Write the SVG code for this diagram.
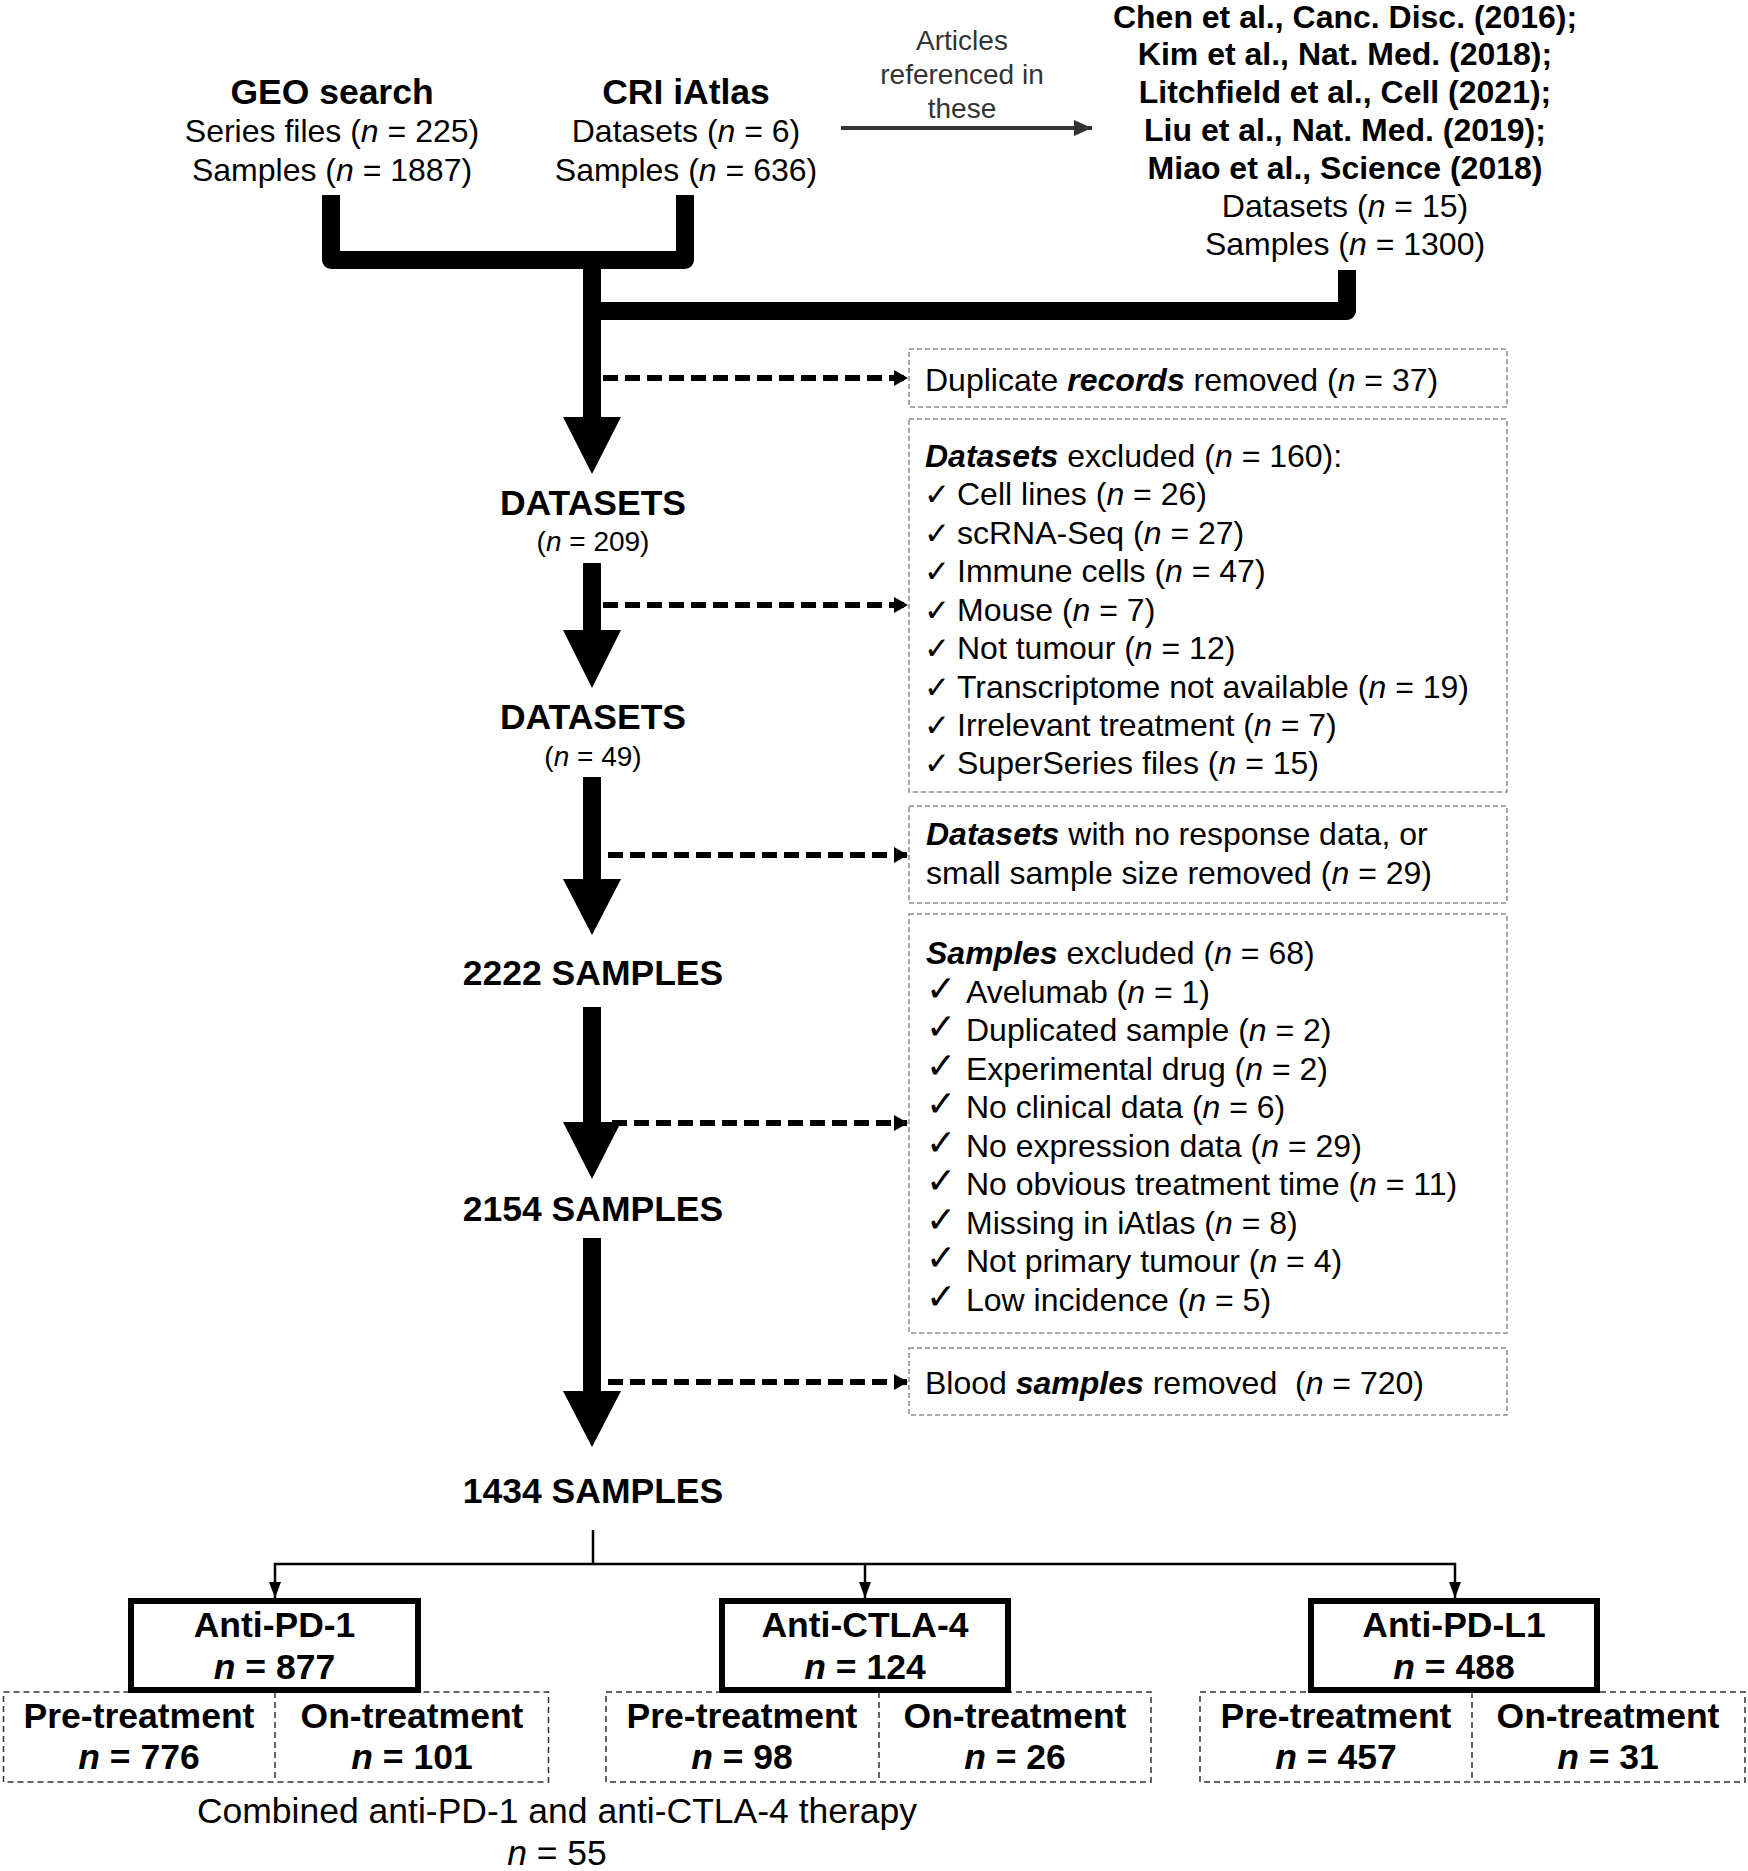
<svg xmlns="http://www.w3.org/2000/svg" width="1748" height="1871" viewBox="0 0 1748 1871">
<style>
text{font-family:"Liberation Sans",Arial,Helvetica,sans-serif;fill:#000}
.r{font-size:32px}
.s{font-size:28px}
.b{font-size:35.5px;font-weight:bold}
.b32{font-size:32px;font-weight:bold}
.c{text-anchor:middle}
.chk{font-family:"DejaVu Sans",sans-serif;font-size:31px}
.chk2{font-family:"DejaVu Sans",sans-serif;font-size:36px;font-weight:300}
.i{font-style:italic}
.bi{font-style:italic;font-weight:bold}
.thick{fill:none;stroke:#000;stroke-width:18;stroke-linejoin:round}
.dash{fill:none;stroke:#000;stroke-width:6;stroke-dasharray:15 7}
.ebox{fill:#fff;stroke:#8c8c8c;stroke-width:1.5;stroke-dasharray:5 3}
.sbox{fill:#fff;stroke:#333;stroke-width:1.5;stroke-dasharray:6 4}
.tbox{fill:#fff;stroke:#000;stroke-width:6}
.thin{fill:none;stroke:#000;stroke-width:2.5}
</style>
<defs>
<marker id="dh" markerUnits="userSpaceOnUse" markerWidth="14" markerHeight="16" refX="13" refY="8" orient="auto"><path d="M0,0 L14,8 L0,16 Z" fill="#000"/></marker>
<marker id="th" markerUnits="userSpaceOnUse" markerWidth="16" markerHeight="12" refX="16" refY="6" orient="auto"><path d="M0,0 L16,6 L0,12 Z" fill="#000"/></marker>
<marker id="ah" markerUnits="userSpaceOnUse" markerWidth="18" markerHeight="16" refX="18" refY="8" orient="auto"><path d="M0,0 L18,8 L0,16 Z" fill="#333"/></marker>
</defs>

<g id="connectors">
<polyline class="thick" points="331,195 331,260 685,260 685,195"/>
<polyline class="thick" points="592,311 1347,311 1347,270"/>
<line class="thick" x1="592" y1="255" x2="592" y2="420"/>
<polygon points="563,417 621,417 592,474"/>
<line class="thick" x1="592" y1="563" x2="592" y2="632"/>
<polygon points="563,630 621,630 592,688"/>
<line class="thick" x1="592" y1="777" x2="592" y2="881"/>
<polygon points="563,879 621,879 592,935"/>
<line class="thick" x1="592" y1="1007" x2="592" y2="1124"/>
<polygon points="563,1122 621,1122 592,1179"/>
<line class="thick" x1="592" y1="1238" x2="592" y2="1393"/>
<polygon points="563,1391 621,1391 592,1447"/>
<line class="dash" x1="603" y1="378" x2="907" y2="378" marker-end="url(#dh)"/>
<line class="dash" x1="603" y1="605" x2="907" y2="605" marker-end="url(#dh)"/>
<line class="dash" x1="608" y1="855" x2="907" y2="855" marker-end="url(#dh)"/>
<line class="dash" x1="612" y1="1123" x2="907" y2="1123" marker-end="url(#dh)"/>
<line class="dash" x1="608" y1="1382" x2="907" y2="1382" marker-end="url(#dh)"/>
<line x1="841" y1="128" x2="1092" y2="128" stroke="#333" stroke-width="4" marker-end="url(#ah)"/>
<line class="thin" x1="593" y1="1530" x2="593" y2="1564"/>
<line class="thin" x1="274" y1="1564" x2="1456" y2="1564"/>
<line class="thin" x1="275" y1="1563" x2="275" y2="1598" marker-end="url(#th)"/>
<line class="thin" x1="865" y1="1563" x2="865" y2="1598" marker-end="url(#th)"/>
<line class="thin" x1="1455" y1="1563" x2="1455" y2="1598" marker-end="url(#th)"/>
</g>

<g id="geo">
<text class="b c" x="332" y="104">GEO search</text>
<text class="r c" x="332" y="142">Series files (<tspan class="i">n</tspan> = 225)</text>
<text class="r c" x="332" y="181">Samples (<tspan class="i">n</tspan> = 1887)</text>
</g>
<g id="cri">
<text class="b c" x="686" y="104">CRI iAtlas</text>
<text class="r c" x="686" y="142">Datasets (<tspan class="i">n</tspan> = 6)</text>
<text class="r c" x="686" y="181">Samples (<tspan class="i">n</tspan> = 636)</text>
</g>
<g id="articles-label">
<text class="s c" x="962" y="50" style="fill:#333">Articles</text>
<text class="s c" x="962" y="84" style="fill:#333">referenced in</text>
<text class="s c" x="962" y="118" style="fill:#333">these</text>
</g>
<g id="articles">
<text class="b32 c" x="1345" y="28">Chen et al., Canc. Disc. (2016);</text>
<text class="b32 c" x="1345" y="65">Kim et al., Nat. Med. (2018);</text>
<text class="b32 c" x="1345" y="103">Litchfield et al., Cell (2021);</text>
<text class="b32 c" x="1345" y="141">Liu et al., Nat. Med. (2019);</text>
<text class="b32 c" x="1345" y="179">Miao et al., Science (2018)</text>
<text class="r c" x="1345" y="217">Datasets (<tspan class="i">n</tspan> = 15)</text>
<text class="r c" x="1345" y="255">Samples (<tspan class="i">n</tspan> = 1300)</text>
</g>

<g id="box-duplicates">
<rect class="ebox" x="909" y="349" width="598" height="58"/>
<text class="r" x="925" y="391">Duplicate <tspan class="bi">records</tspan> removed (<tspan class="i">n</tspan> = 37)</text>
</g>
<g id="box-datasets-excluded">
<rect class="ebox" x="909" y="419" width="598" height="373"/>
<text class="r" x="925" y="467"><tspan class="bi">Datasets</tspan> excluded (<tspan class="i">n</tspan> = 160):</text>
<text class="chk" x="924" y="505">✓</text><text class="r" x="957" y="505">Cell lines (<tspan class="i">n</tspan> = 26)</text>
<text class="chk" x="924" y="544">✓</text><text class="r" x="957" y="544">scRNA-Seq (<tspan class="i">n</tspan> = 27)</text>
<text class="chk" x="924" y="582">✓</text><text class="r" x="957" y="582">Immune cells (<tspan class="i">n</tspan> = 47)</text>
<text class="chk" x="924" y="621">✓</text><text class="r" x="957" y="621">Mouse (<tspan class="i">n</tspan> = 7)</text>
<text class="chk" x="924" y="659">✓</text><text class="r" x="957" y="659">Not tumour (<tspan class="i">n</tspan> = 12)</text>
<text class="chk" x="924" y="698">✓</text><text class="r" x="957" y="698">Transcriptome not available (<tspan class="i">n</tspan> = 19)</text>
<text class="chk" x="924" y="736">✓</text><text class="r" x="957" y="736">Irrelevant treatment (<tspan class="i">n</tspan> = 7)</text>
<text class="chk" x="924" y="774">✓</text><text class="r" x="957" y="774">SuperSeries files (<tspan class="i">n</tspan> = 15)</text>
</g>
<g id="box-no-response">
<rect class="ebox" x="909" y="806" width="598" height="97"/>
<text class="r" x="926" y="845"><tspan class="bi">Datasets</tspan> with no response data, or</text>
<text class="r" x="926" y="884">small sample size removed (<tspan class="i">n</tspan> = 29)</text>
</g>
<g id="box-samples-excluded">
<rect class="ebox" x="909" y="914" width="598" height="419"/>
<text class="r" x="926" y="964"><tspan class="bi">Samples</tspan> excluded (<tspan class="i">n</tspan> = 68)</text>
<text class="chk2" x="926" y="1001">✓</text><text class="r" x="966" y="1003">Avelumab (<tspan class="i">n</tspan> = 1)</text>
<text class="chk2" x="926" y="1039">✓</text><text class="r" x="966" y="1041">Duplicated sample (<tspan class="i">n</tspan> = 2)</text>
<text class="chk2" x="926" y="1078">✓</text><text class="r" x="966" y="1080">Experimental drug (<tspan class="i">n</tspan> = 2)</text>
<text class="chk2" x="926" y="1116">✓</text><text class="r" x="966" y="1118">No clinical data (<tspan class="i">n</tspan> = 6)</text>
<text class="chk2" x="926" y="1155">✓</text><text class="r" x="966" y="1157">No expression data (<tspan class="i">n</tspan> = 29)</text>
<text class="chk2" x="926" y="1193">✓</text><text class="r" x="966" y="1195">No obvious treatment time (<tspan class="i">n</tspan> = 11)</text>
<text class="chk2" x="926" y="1232">✓</text><text class="r" x="966" y="1234">Missing in iAtlas (<tspan class="i">n</tspan> = 8)</text>
<text class="chk2" x="926" y="1270">✓</text><text class="r" x="966" y="1272">Not primary tumour (<tspan class="i">n</tspan> = 4)</text>
<text class="chk2" x="926" y="1309">✓</text><text class="r" x="966" y="1311">Low incidence (<tspan class="i">n</tspan> = 5)</text>
</g>
<g id="box-blood">
<rect class="ebox" x="909" y="1348" width="598" height="67"/>
<text class="r" x="925" y="1394">Blood <tspan class="bi">samples</tspan> removed &#160;(<tspan class="i">n</tspan> = 720)</text>
</g>

<g id="datasets-209">
<text class="b c" x="593" y="515">DATASETS</text>
<text class="s c" x="593" y="551">(<tspan class="i">n</tspan> = 209)</text>
</g>
<g id="datasets-49">
<text class="b c" x="593" y="729">DATASETS</text>
<text class="s c" x="593" y="766">(<tspan class="i">n</tspan> = 49)</text>
</g>
<g id="samples-2222"><text class="b c" x="593" y="985">2222 SAMPLES</text></g>
<g id="samples-2154"><text class="b c" x="593" y="1221">2154 SAMPLES</text></g>
<g id="samples-1434"><text class="b c" x="593" y="1503">1434 SAMPLES</text></g>

<g id="split-pd1">
<rect class="sbox" x="3.5" y="1692" width="545" height="90"/>
<line class="sbox" x1="275" y1="1692" x2="275" y2="1782"/>
<text class="b c" x="139" y="1728">Pre-treatment</text>
<text class="b c" x="139" y="1769"><tspan class="i">n</tspan> = 776</text>
<text class="b c" x="412" y="1728">On-treatment</text>
<text class="b c" x="412" y="1769"><tspan class="i">n</tspan> = 101</text>
</g>
<g id="anti-pd1">
<rect class="tbox" x="131" y="1601" width="287" height="89"/>
<text class="b c" x="274.5" y="1637">Anti-PD-1</text>
<text class="b c" x="274.5" y="1679"><tspan class="i">n</tspan> = 877</text>
</g>
<g id="split-ctla4">
<rect class="sbox" x="606" y="1692" width="545" height="90"/>
<line class="sbox" x1="879" y1="1692" x2="879" y2="1782"/>
<text class="b c" x="742" y="1728">Pre-treatment</text>
<text class="b c" x="742" y="1769"><tspan class="i">n</tspan> = 98</text>
<text class="b c" x="1015" y="1728">On-treatment</text>
<text class="b c" x="1015" y="1769"><tspan class="i">n</tspan> = 26</text>
</g>
<g id="anti-ctla4">
<rect class="tbox" x="722" y="1601" width="286" height="89"/>
<text class="b c" x="865" y="1637">Anti-CTLA-4</text>
<text class="b c" x="865" y="1679"><tspan class="i">n</tspan> = 124</text>
</g>
<g id="split-pdl1">
<rect class="sbox" x="1200" y="1692" width="545" height="90"/>
<line class="sbox" x1="1472" y1="1692" x2="1472" y2="1782"/>
<text class="b c" x="1336" y="1728">Pre-treatment</text>
<text class="b c" x="1336" y="1769"><tspan class="i">n</tspan> = 457</text>
<text class="b c" x="1608" y="1728">On-treatment</text>
<text class="b c" x="1608" y="1769"><tspan class="i">n</tspan> = 31</text>
</g>
<g id="anti-pdl1">
<rect class="tbox" x="1311" y="1601" width="286" height="89"/>
<text class="b c" x="1454" y="1637">Anti-PD-L1</text>
<text class="b c" x="1454" y="1679"><tspan class="i">n</tspan> = 488</text>
</g>
<g id="combined">
<text class="c" x="557" y="1823" style="font-size:35.5px">Combined anti-PD-1 and anti-CTLA-4 therapy</text>
<text class="c" x="557" y="1865" style="font-size:35.5px"><tspan class="i">n</tspan> = 55</text>
</g>
</svg>
